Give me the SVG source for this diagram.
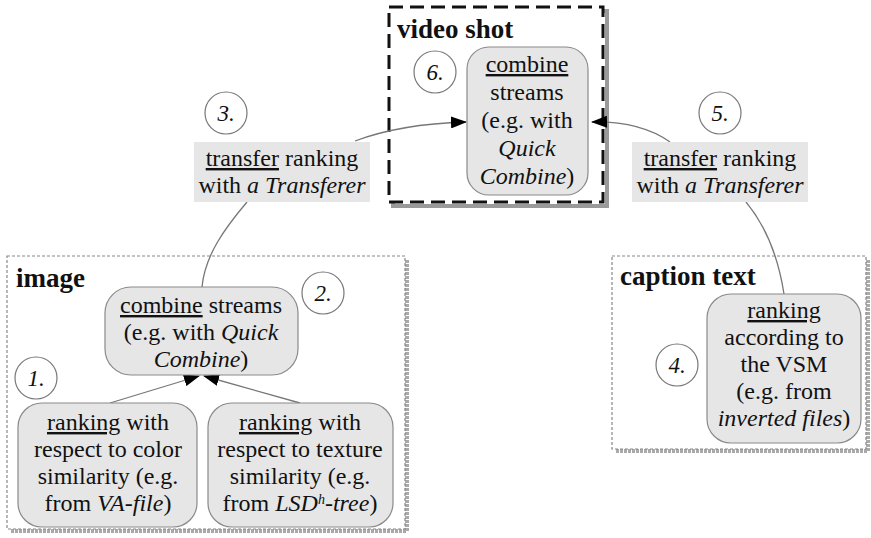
<svg xmlns="http://www.w3.org/2000/svg" width="871" height="538" viewBox="0 0 871 538">
<defs>
<style>
.node{fill:#e6e6e6;stroke:#8a8a8a;stroke-width:1.2}
.lab{fill:#e6e6e6;stroke:none}
.num{fill:#fff;stroke:#777;stroke-width:1.2}
.grp{fill:#fff;stroke:#888;stroke-width:1.2;stroke-dasharray:3 2}
.gsh{fill:none;stroke:#aaa;stroke-width:4;stroke-dasharray:3 1}
.con{fill:none;stroke:#777;stroke-width:1.3}
</style>
<marker id="ah" markerUnits="userSpaceOnUse" markerWidth="16" markerHeight="12" refX="15" refY="6" orient="auto">
<path d="M0,0 L16,6 L0,12 z" fill="#000"/>
</marker>
</defs>

<g id="grp-video">
<rect x="393" y="11" width="214" height="195" fill="none" stroke="#9a9a9a" stroke-width="4"/>
<rect x="389" y="7" width="214" height="195" fill="#fff" stroke="#111" stroke-width="3" stroke-dasharray="14 7"/>
<text font-family="Liberation Serif" font-size="27" font-weight="bold" fill="#111" x="397" y="38">video shot</text>
</g>

<g id="grp-image">
<path class="gsh" d="M407,260 V531 H11"/>
<rect class="grp" x="7" y="256" width="398" height="273"/>
<text font-family="Liberation Serif" font-size="27" font-weight="bold" fill="#111" x="16" y="287">image</text>
</g>

<g id="grp-caption">
<path class="gsh" d="M868,260 V451 H615"/>
<rect class="grp" x="612" y="256" width="254" height="193"/>
<text font-family="Liberation Serif" font-size="27" font-weight="bold" fill="#111" x="620" y="285">caption text</text>
</g>

<g id="connectors">
<path class="con" d="M355,141 Q400,124 466,122" marker-end="url(#ah)"/>
<path class="con" d="M670,142 Q640,121 592,122" marker-end="url(#ah)"/>
<path class="con" d="M247,202 C225,228 205,255 202,287"/>
<path class="con" d="M746,202 C765,225 778,255 784,294"/>
<path class="con" d="M110,403 L199,376" marker-end="url(#ah)"/>
<path class="con" d="M300,403 L204,376" marker-end="url(#ah)"/>
</g>

<g id="n6">
<rect class="node" x="467" y="47" width="121" height="148" rx="22"/>
<text font-family="Liberation Serif" font-size="24" text-anchor="middle" fill="#111" x="527" y="72"><tspan text-decoration="underline">combine</tspan></text>
<text font-family="Liberation Serif" font-size="24" text-anchor="middle" fill="#111" x="527" y="100">streams</text>
<text font-family="Liberation Serif" font-size="24" text-anchor="middle" fill="#111" x="527" y="128">(e.g. with</text>
<text font-family="Liberation Serif" font-size="24" text-anchor="middle" fill="#111" x="527" y="156"><tspan font-style="italic">Quick</tspan></text>
<text font-family="Liberation Serif" font-size="24" text-anchor="middle" fill="#111" x="527" y="184"><tspan font-style="italic">Combine</tspan>)</text>
</g>
<g id="c6"><circle class="num" cx="435" cy="72" r="21"/><text font-family="Liberation Serif" font-size="23" font-style="italic" text-anchor="middle" fill="#111" x="435" y="80">6.</text></g>

<g id="l3">
<rect class="lab" x="194" y="142" width="176" height="60"/>
<text font-family="Liberation Serif" font-size="24" text-anchor="middle" fill="#111" x="282" y="166"><tspan text-decoration="underline">transfer</tspan> ranking</text>
<text font-family="Liberation Serif" font-size="24" text-anchor="middle" fill="#111" x="282" y="193">with <tspan font-style="italic">a Transferer</tspan></text>
</g>
<g id="c3"><circle class="num" cx="226" cy="113" r="21"/><text font-family="Liberation Serif" font-size="23" font-style="italic" text-anchor="middle" fill="#111" x="226" y="121">3.</text></g>

<g id="l5">
<rect class="lab" x="632" y="142" width="176" height="60"/>
<text font-family="Liberation Serif" font-size="24" text-anchor="middle" fill="#111" x="720" y="166"><tspan text-decoration="underline">transfer</tspan> ranking</text>
<text font-family="Liberation Serif" font-size="24" text-anchor="middle" fill="#111" x="720" y="193">with <tspan font-style="italic">a Transferer</tspan></text>
</g>
<g id="c5"><circle class="num" cx="720" cy="113" r="21"/><text font-family="Liberation Serif" font-size="23" font-style="italic" text-anchor="middle" fill="#111" x="720" y="121">5.</text></g>

<g id="n2">
<rect class="node" x="105" y="287" width="193" height="88" rx="26"/>
<text font-family="Liberation Serif" font-size="24" text-anchor="middle" fill="#111" x="201" y="313"><tspan text-decoration="underline">combine</tspan> streams</text>
<text font-family="Liberation Serif" font-size="24" text-anchor="middle" fill="#111" x="201" y="340">(e.g. with <tspan font-style="italic">Quick</tspan></text>
<text font-family="Liberation Serif" font-size="24" text-anchor="middle" fill="#111" x="201" y="367"><tspan font-style="italic">Combine</tspan>)</text>
</g>
<g id="c2"><circle class="num" cx="323" cy="293" r="21"/><text font-family="Liberation Serif" font-size="23" font-style="italic" text-anchor="middle" fill="#111" x="323" y="301">2.</text></g>
<g id="c1"><circle class="num" cx="36" cy="378" r="21"/><text font-family="Liberation Serif" font-size="23" font-style="italic" text-anchor="middle" fill="#111" x="36" y="386">1.</text></g>

<g id="n1">
<rect class="node" x="18" y="403" width="179" height="124" rx="24"/>
<text font-family="Liberation Serif" font-size="24" text-anchor="middle" fill="#111" x="108" y="430"><tspan text-decoration="underline">ranking</tspan> with</text>
<text font-family="Liberation Serif" font-size="24" text-anchor="middle" fill="#111" x="108" y="457">respect to color</text>
<text font-family="Liberation Serif" font-size="24" text-anchor="middle" fill="#111" x="108" y="484">similarity (e.g.</text>
<text font-family="Liberation Serif" font-size="24" text-anchor="middle" fill="#111" x="108" y="511">from <tspan font-style="italic">VA-file</tspan>)</text>
</g>

<g id="n1b">
<rect class="node" x="208" y="403" width="185" height="124" rx="24"/>
<text font-family="Liberation Serif" font-size="24" text-anchor="middle" fill="#111" x="300" y="430"><tspan text-decoration="underline">ranking</tspan> with</text>
<text font-family="Liberation Serif" font-size="24" text-anchor="middle" fill="#111" x="300" y="457">respect to texture</text>
<text font-family="Liberation Serif" font-size="24" text-anchor="middle" fill="#111" x="300" y="484">similarity (e.g.</text>
<text font-family="Liberation Serif" font-size="24" text-anchor="middle" fill="#111" x="300" y="511">from <tspan font-style="italic">LSD<tspan font-size="14" baseline-shift="super">h</tspan>-tree</tspan>)</text>
</g>

<g id="n4">
<rect class="node" x="707" y="294" width="154" height="149" rx="24"/>
<text font-family="Liberation Serif" font-size="24" text-anchor="middle" fill="#111" x="784" y="318"><tspan text-decoration="underline">ranking</tspan></text>
<text font-family="Liberation Serif" font-size="24" text-anchor="middle" fill="#111" x="784" y="345">according to</text>
<text font-family="Liberation Serif" font-size="24" text-anchor="middle" fill="#111" x="784" y="372">the VSM</text>
<text font-family="Liberation Serif" font-size="24" text-anchor="middle" fill="#111" x="784" y="399">(e.g. from</text>
<text font-family="Liberation Serif" font-size="24" text-anchor="middle" fill="#111" x="784" y="426"><tspan font-style="italic">inverted files</tspan>)</text>
</g>
<g id="c4"><circle class="num" cx="677" cy="365" r="21"/><text font-family="Liberation Serif" font-size="23" font-style="italic" text-anchor="middle" fill="#111" x="677" y="373">4.</text></g>
</svg>
